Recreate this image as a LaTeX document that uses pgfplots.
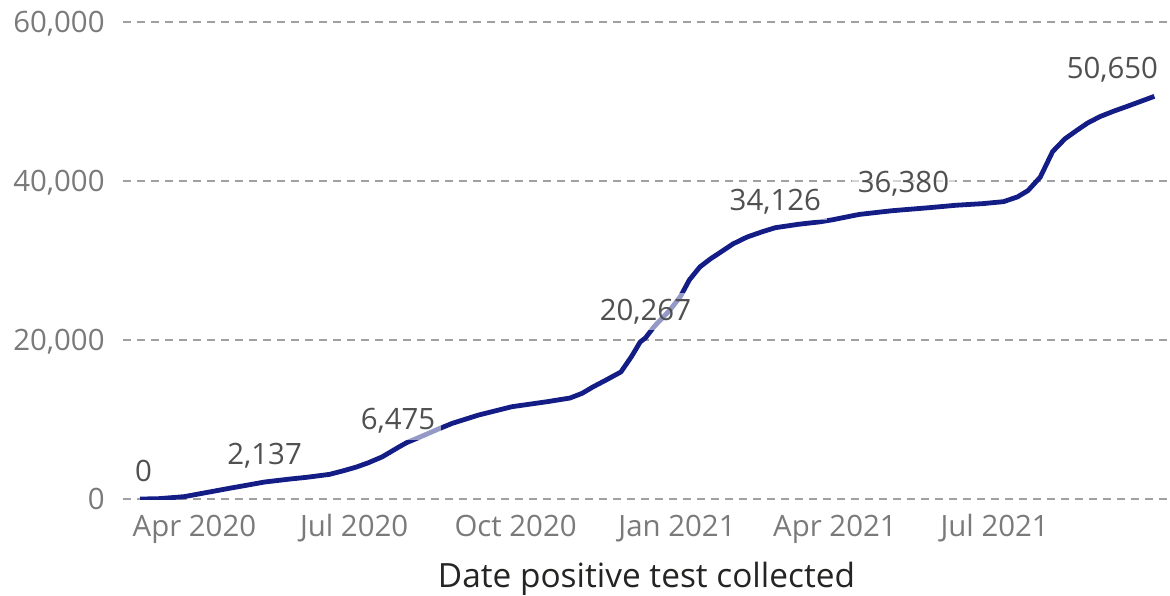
\documentclass[border=0pt]{standalone}
\usepackage{fontspec}
\setmainfont{Open Sans}
\usepackage{pgfplots}
\pgfplotsset{compat=1.18}
\definecolor{linec}{HTML}{141D85}
\definecolor{gridc}{HTML}{A0A0A0}
\definecolor{tickc}{HTML}{7A7A7A}
\definecolor{labc}{HTML}{505050}
\definecolor{titc}{HTML}{252423}
\begin{document}
\begin{tikzpicture}
\useasboundingbox (-61.5bp,-48.5bp) rectangle (523.5bp,249.5bp);
\begin{axis}[
  scale only axis,
  width=523.5bp, height=238.5bp,
  at={(0,0)}, anchor=south west,
  xmin=-9.7, xmax=586.9,
  ymin=0, ymax=60000,
  scaled y ticks=false,
  axis line style={draw=none},
  major tick style={draw=none},
  minor tick style={draw=none},
  clip mode=individual,
  ytick={0,20000,40000,60000},
  yticklabels={0,{20,000},{40,000},{60,000}},
  xtick={31,122,214,306,396,487},
  xticklabels={Apr 2020,Jul 2020,Oct 2020,Jan 2021,Apr 2021,Jul 2021},
  ymajorgrids,
  grid style={gridc, line width=1bp, dash pattern=on 4bp off 3bp},
  yticklabel style={font=\fontsize{14.7bp}{17bp}\selectfont, text=tickc, anchor=base east, inner sep=0pt, xshift=-9bp, yshift=-5.2bp},
  xticklabel style={font=\fontsize{14.7bp}{17bp}\selectfont, text=tickc, anchor=base, inner sep=0pt, yshift=-18.5bp},
  xlabel={Date positive test collected},
  xlabel style={at={(axis description cs:0.5,0)}, anchor=base, inner sep=0pt, yshift=-44bp, font=\fontsize{16.7bp}{20bp}\selectfont, text=titc},
]
\addplot[linec, line width=2.4bp, line join=round] coordinates {
(0,0) (10,30) (25,290) (40,900) (51,1350) (60,1700) (71,2137) (85,2500)
(95,2730) (108,3100) (116,3560) (123,4000) (130,4550) (138,5300) (147,6475)
(152,7100) (160,7838) (170,8800) (178,9523) (193,10567) (212,11611) (232,12240)
(245,12700) (252,13300) (258,14090) (265,14900) (274,15977) (280,17900)
(285,19750) (288,20267) (293,21700) (302,23776) (308,25500) (313,27550)
(319,29186) (325,30200) (331,31073) (338,32100) (346,32960) (355,33650)
(362,34126) (375,34550) (387,34850) (394,35100) (410,35800) (428,36250)
(435,36380) (450,36650) (465,36950) (480,37150) (492,37400) (500,38000)
(506,38800) (513,40500) (520,43700) (527,45300) (534,46400) (540,47300)
(547,48100) (555,48800) (562,49350) (570,50000) (578,50650)
};
\addplot[draw=none, mark=none, point meta=explicit symbolic, nodes near coords,
  every node near coord/.style={anchor=base, yshift=8.8bp, fill=white, fill opacity=0.55, text opacity=1, inner sep=3bp, text=labc, font=\fontsize{14.7bp}{17bp}\selectfont}]
coordinates {
(2,0) [0]
(71,2137) [2,137]
(147,6475) [6,475]
(288,20267) [20,267]
(362,34126) [34,126]
(435,36380) [36,380]
};
\addplot[draw=none, mark=none, point meta=explicit symbolic, nodes near coords,
  every node near coord/.style={anchor=base, yshift=8.8bp, xshift=-21bp, fill=white, fill opacity=0.55, text opacity=1, inner sep=3bp, text=labc, font=\fontsize{14.7bp}{17bp}\selectfont}]
coordinates {
(578,50650) [50,650]
};
\end{axis}
\end{tikzpicture}
\end{document}
